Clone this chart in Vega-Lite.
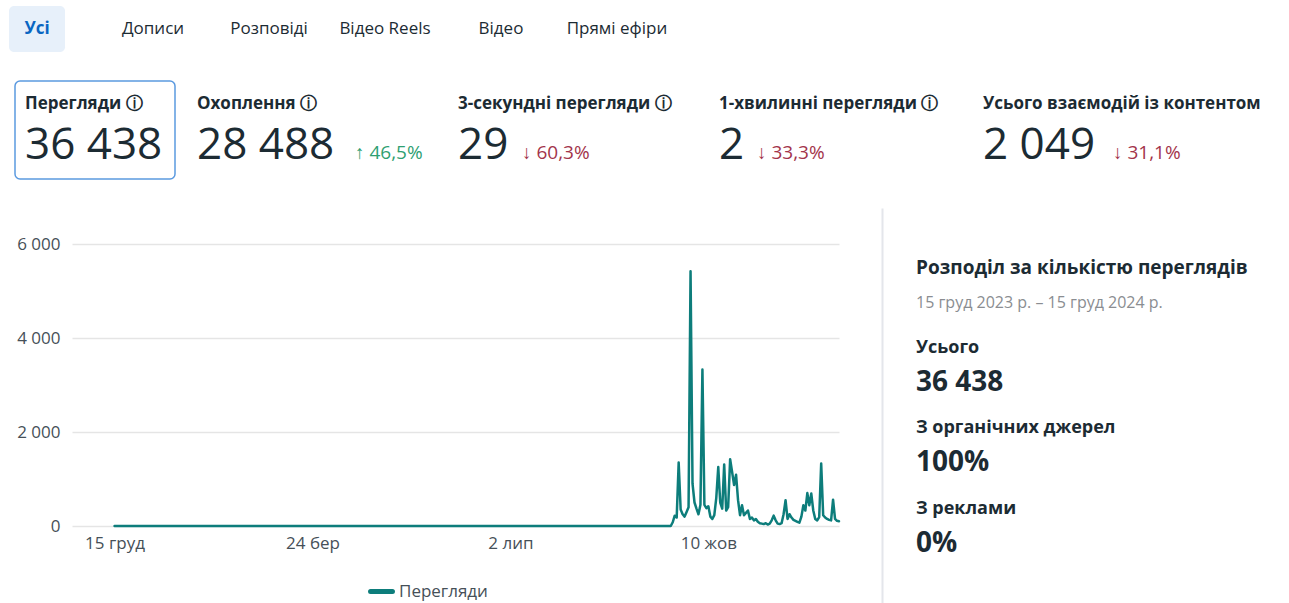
{
  "$schema": "https://vega.github.io/schema/vega-lite/v6.json",
  "background": "white",
  "padding": {"left": 9, "top": 6, "right": 5, "bottom": 0},
  "spacing": 28,
  "resolve": {"scale": {"color": "independent"}, "legend": {"color": "independent"}},
  "config": {"font": "Open Sans", "view": {"stroke": null}, "legend": {"layout": {"bottom": {"anchor": "middle"}}}},
  "vconcat": [
    {
      "width": 624,
      "height": 46,
      "data": {"values": [
        {"tab": "Усі", "state": "selected"},
        {"tab": "Дописи", "state": "other"},
        {"tab": "Розповіді", "state": "other"},
        {"tab": "Відео Reels", "state": "other"},
        {"tab": "Відео", "state": "other"},
        {"tab": "Прямі ефіри", "state": "other"}
      ]},
      "encoding": {
        "x": {"field": "tab", "type": "nominal", "sort": null,
          "scale": {"type": "point", "domain": ["Усі", "Дописи", "Розповіді", "Відео Reels", "Відео", "Прямі ефіри"], "padding": 0.19},
          "axis": null}
      },
      "layer": [
        {"transform": [{"filter": "datum.state === 'selected'"}],
         "mark": {"type": "rect", "width": 56, "fill": "#e7f0fa", "cornerRadius": 5}},
        {"transform": [{"filter": "datum.state === 'selected'"}],
         "mark": {"type": "text", "fontSize": 17, "fontWeight": "bold", "color": "#0a66c2", "baseline": "middle"},
         "encoding": {"text": {"field": "tab", "type": "nominal"}}},
        {"transform": [{"filter": "datum.state === 'other'"}],
         "mark": {"type": "text", "fontSize": 17, "color": "#1c2b33", "baseline": "middle"},
         "encoding": {"text": {"field": "tab", "type": "nominal"}}}
      ]
    },
    {
      "spacing": 22,
      "bounds": "flush",
      "hconcat": [
        {
          "width": 160, "height": 98,
          "view": {"stroke": "#5b9ae0", "strokeWidth": 1.5, "cornerRadius": 5},
          "data": {"values": [
            {"part": "label", "text": "Перегляди ⓘ"},
            {"part": "value", "text": "36 438"}
          ]},
          "encoding": {"text": {"field": "text", "type": "nominal"}},
          "layer": [
            {"transform": [{"filter": "datum.part === 'label'"}],
             "mark": {"type": "text", "align": "left", "baseline": "alphabetic", "dx": 10, "fontSize": 17, "fontWeight": "bold", "color": "#1c2b33"},
             "encoding": {
               "x": {"datum": "value", "type": "nominal", "scale": {"type": "point", "domain": ["value", "change"], "padding": 0, "align": 0}, "axis": null},
               "y": {"field": "part", "type": "nominal", "scale": {"type": "point", "domain": ["label", "value"], "padding": 0.48, "align": 0.583}, "axis": null}}},
            {"transform": [{"filter": "datum.part === 'value'"}],
             "mark": {"type": "text", "align": "left", "baseline": "alphabetic", "dx": 10, "fontSize": 44, "color": "#1c2b33"},
             "encoding": {
               "x": {"field": "part", "type": "nominal", "scale": {"type": "point", "domain": ["value", "change"], "padding": 0, "align": 0}, "axis": null},
               "y": {"field": "part", "type": "nominal", "scale": {"type": "point", "domain": ["label", "value"], "padding": 0.48, "align": 0.583}, "axis": null}}}
          ]
        },
        {
          "width": 239, "height": 98,
          "data": {"values": [
            {"part": "label", "text": "Охоплення ⓘ"},
            {"part": "value", "text": "28 488"},
            {"part": "change", "text": "↑ 46,5%"}
          ]},
          "encoding": {"text": {"field": "text", "type": "nominal"}},
          "layer": [
            {"transform": [{"filter": "datum.part === 'label'"}],
             "mark": {"type": "text", "align": "left", "baseline": "alphabetic", "fontSize": 17, "fontWeight": "bold", "color": "#1c2b33"},
             "encoding": {
               "x": {"datum": "value", "type": "nominal", "scale": {"type": "point", "domain": ["value", "change"], "padding": 0.2563, "align": 0}, "axis": null},
               "y": {"field": "part", "type": "nominal", "scale": {"type": "point", "domain": ["label", "value"], "padding": 0.48, "align": 0.583}, "axis": null}}},
            {"transform": [{"filter": "datum.part === 'value'"}],
             "mark": {"type": "text", "align": "left", "baseline": "alphabetic", "fontSize": 44, "color": "#1c2b33"},
             "encoding": {
               "x": {"field": "part", "type": "nominal", "scale": {"type": "point", "domain": ["value", "change"], "padding": 0.2563, "align": 0}, "axis": null},
               "y": {"field": "part", "type": "nominal", "scale": {"type": "point", "domain": ["label", "value"], "padding": 0.48, "align": 0.583}, "axis": null}}},
            {"transform": [{"filter": "datum.part === 'change'"}],
             "mark": {"type": "text", "align": "left", "baseline": "alphabetic", "fontSize": 19, "color": "#2f9f72"},
             "encoding": {
               "x": {"field": "part", "type": "nominal", "scale": {"type": "point", "domain": ["value", "change"], "padding": 0.2563, "align": 0}, "axis": null},
               "y": {"datum": "value", "type": "nominal", "scale": {"type": "point", "domain": ["label", "value"], "padding": 0.48, "align": 0.583}, "axis": null}}}
          ]
        },
        {
          "width": 239, "height": 98,
          "data": {"values": [
            {"part": "label", "text": "3-секундні перегляди ⓘ"},
            {"part": "value", "text": "29"},
            {"part": "change", "text": "↓ 60,3%"}
          ]},
          "encoding": {"text": {"field": "text", "type": "nominal"}},
          "layer": [
            {"transform": [{"filter": "datum.part === 'label'"}],
             "mark": {"type": "text", "align": "left", "baseline": "alphabetic", "fontSize": 17, "fontWeight": "bold", "color": "#1c2b33"},
             "encoding": {
               "x": {"datum": "value", "type": "nominal", "scale": {"type": "point", "domain": ["value", "change", "end"], "padding": 0.867, "align": 0}, "axis": null},
               "y": {"field": "part", "type": "nominal", "scale": {"type": "point", "domain": ["label", "value"], "padding": 0.48, "align": 0.583}, "axis": null}}},
            {"transform": [{"filter": "datum.part === 'value'"}],
             "mark": {"type": "text", "align": "left", "baseline": "alphabetic", "fontSize": 44, "color": "#1c2b33"},
             "encoding": {
               "x": {"field": "part", "type": "nominal", "scale": {"type": "point", "domain": ["value", "change", "end"], "padding": 0.867, "align": 0}, "axis": null},
               "y": {"field": "part", "type": "nominal", "scale": {"type": "point", "domain": ["label", "value"], "padding": 0.48, "align": 0.583}, "axis": null}}},
            {"transform": [{"filter": "datum.part === 'change'"}],
             "mark": {"type": "text", "align": "left", "baseline": "alphabetic", "fontSize": 19, "color": "#a3344b"},
             "encoding": {
               "x": {"field": "part", "type": "nominal", "scale": {"type": "point", "domain": ["value", "change", "end"], "padding": 0.867, "align": 0}, "axis": null},
               "y": {"datum": "value", "type": "nominal", "scale": {"type": "point", "domain": ["label", "value"], "padding": 0.48, "align": 0.583}, "axis": null}}}
          ]
        },
        {
          "width": 242, "height": 98,
          "data": {"values": [
            {"part": "label", "text": "1-хвилинні перегляди ⓘ"},
            {"part": "value", "text": "2"},
            {"part": "change", "text": "↓ 33,3%"}
          ]},
          "encoding": {"text": {"field": "text", "type": "nominal"}},
          "layer": [
            {"transform": [{"filter": "datum.part === 'label'"}],
             "mark": {"type": "text", "align": "left", "baseline": "alphabetic", "fontSize": 17, "fontWeight": "bold", "color": "#1c2b33"},
             "encoding": {
               "x": {"datum": "value", "type": "nominal", "scale": {"type": "point", "domain": ["value", "change", "s3", "s4", "s5", "s6"], "padding": 0.684, "align": 0}, "axis": null},
               "y": {"field": "part", "type": "nominal", "scale": {"type": "point", "domain": ["label", "value"], "padding": 0.48, "align": 0.583}, "axis": null}}},
            {"transform": [{"filter": "datum.part === 'value'"}],
             "mark": {"type": "text", "align": "left", "baseline": "alphabetic", "fontSize": 44, "color": "#1c2b33"},
             "encoding": {
               "x": {"field": "part", "type": "nominal", "scale": {"type": "point", "domain": ["value", "change", "s3", "s4", "s5", "s6"], "padding": 0.684, "align": 0}, "axis": null},
               "y": {"field": "part", "type": "nominal", "scale": {"type": "point", "domain": ["label", "value"], "padding": 0.48, "align": 0.583}, "axis": null}}},
            {"transform": [{"filter": "datum.part === 'change'"}],
             "mark": {"type": "text", "align": "left", "baseline": "alphabetic", "fontSize": 19, "color": "#a3344b"},
             "encoding": {
               "x": {"field": "part", "type": "nominal", "scale": {"type": "point", "domain": ["value", "change", "s3", "s4", "s5", "s6"], "padding": 0.684, "align": 0}, "axis": null},
               "y": {"datum": "value", "type": "nominal", "scale": {"type": "point", "domain": ["label", "value"], "padding": 0.48, "align": 0.583}, "axis": null}}}
          ]
        },
        {
          "width": 290, "height": 98,
          "data": {"values": [
            {"part": "label", "text": "Усього взаємодій із контентом"},
            {"part": "value", "text": "2 049"},
            {"part": "change", "text": "↓ 31,1%"}
          ]},
          "encoding": {"text": {"field": "text", "type": "nominal"}},
          "layer": [
            {"transform": [{"filter": "datum.part === 'label'"}],
             "mark": {"type": "text", "align": "left", "baseline": "alphabetic", "fontSize": 17, "fontWeight": "bold", "color": "#1c2b33"},
             "encoding": {
               "x": {"datum": "value", "type": "nominal", "scale": {"type": "point", "domain": ["value", "change"], "padding": 0.615, "align": 0}, "axis": null},
               "y": {"field": "part", "type": "nominal", "scale": {"type": "point", "domain": ["label", "value"], "padding": 0.48, "align": 0.583}, "axis": null}}},
            {"transform": [{"filter": "datum.part === 'value'"}],
             "mark": {"type": "text", "align": "left", "baseline": "alphabetic", "fontSize": 44, "color": "#1c2b33"},
             "encoding": {
               "x": {"field": "part", "type": "nominal", "scale": {"type": "point", "domain": ["value", "change"], "padding": 0.615, "align": 0}, "axis": null},
               "y": {"field": "part", "type": "nominal", "scale": {"type": "point", "domain": ["label", "value"], "padding": 0.48, "align": 0.583}, "axis": null}}},
            {"transform": [{"filter": "datum.part === 'change'"}],
             "mark": {"type": "text", "align": "left", "baseline": "alphabetic", "fontSize": 19, "color": "#a3344b"},
             "encoding": {
               "x": {"field": "part", "type": "nominal", "scale": {"type": "point", "domain": ["value", "change"], "padding": 0.615, "align": 0}, "axis": null},
               "y": {"datum": "value", "type": "nominal", "scale": {"type": "point", "domain": ["label", "value"], "padding": 0.48, "align": 0.583}, "axis": null}}}
          ]
        }
      ]
    },
    {
      "spacing": 41,
      "resolve": {"scale": {"color": "independent"}, "legend": {"color": "independent"}},
      "hconcat": [
        {
          "spacing": 0,
          "hconcat": [
            {
              "width": 1,
              "height": 1,
              "data": {"values": []},
              "mark": {"type": "point", "opacity": 0}
            },
            {
              "width": 767,
              "height": 318,
              "data": {"values": [
                {"date": "2023-12-15", "views": 0},
                {"date": "2024-01-15", "views": 0},
                {"date": "2024-02-15", "views": 0},
                {"date": "2024-03-15", "views": 0},
                {"date": "2024-04-15", "views": 0},
                {"date": "2024-05-15", "views": 0},
                {"date": "2024-06-15", "views": 0},
                {"date": "2024-07-15", "views": 0},
                {"date": "2024-08-15", "views": 0},
                {"date": "2024-09-15", "views": 0},
                {"date": "2024-09-21", "views": 0},
                {"date": "2024-09-22", "views": 80},
                {"date": "2024-09-23", "views": 220},
                {"date": "2024-09-24", "views": 180},
                {"date": "2024-09-25", "views": 1350},
                {"date": "2024-09-26", "views": 350},
                {"date": "2024-09-27", "views": 250},
                {"date": "2024-09-28", "views": 200},
                {"date": "2024-09-29", "views": 300},
                {"date": "2024-09-30", "views": 400},
                {"date": "2024-10-01", "views": 5420},
                {"date": "2024-10-02", "views": 900},
                {"date": "2024-10-03", "views": 500},
                {"date": "2024-10-04", "views": 370},
                {"date": "2024-10-05", "views": 250},
                {"date": "2024-10-06", "views": 450},
                {"date": "2024-10-07", "views": 3330},
                {"date": "2024-10-08", "views": 450},
                {"date": "2024-10-09", "views": 380},
                {"date": "2024-10-10", "views": 420},
                {"date": "2024-10-11", "views": 200},
                {"date": "2024-10-12", "views": 150},
                {"date": "2024-10-13", "views": 230},
                {"date": "2024-10-14", "views": 600},
                {"date": "2024-10-15", "views": 1255},
                {"date": "2024-10-16", "views": 500},
                {"date": "2024-10-17", "views": 370},
                {"date": "2024-10-18", "views": 1310},
                {"date": "2024-10-19", "views": 330},
                {"date": "2024-10-20", "views": 400},
                {"date": "2024-10-21", "views": 1420},
                {"date": "2024-10-22", "views": 1150},
                {"date": "2024-10-23", "views": 870},
                {"date": "2024-10-24", "views": 1090},
                {"date": "2024-10-25", "views": 550},
                {"date": "2024-10-26", "views": 230},
                {"date": "2024-10-27", "views": 440},
                {"date": "2024-10-28", "views": 230},
                {"date": "2024-10-29", "views": 280},
                {"date": "2024-10-30", "views": 330},
                {"date": "2024-10-31", "views": 150},
                {"date": "2024-11-01", "views": 180},
                {"date": "2024-11-02", "views": 120},
                {"date": "2024-11-03", "views": 150},
                {"date": "2024-11-04", "views": 90},
                {"date": "2024-11-05", "views": 60},
                {"date": "2024-11-06", "views": 50},
                {"date": "2024-11-07", "views": 40},
                {"date": "2024-11-08", "views": 60},
                {"date": "2024-11-09", "views": 30},
                {"date": "2024-11-10", "views": 50},
                {"date": "2024-11-11", "views": 120},
                {"date": "2024-11-12", "views": 220},
                {"date": "2024-11-13", "views": 120},
                {"date": "2024-11-14", "views": 50},
                {"date": "2024-11-15", "views": 40},
                {"date": "2024-11-16", "views": 60},
                {"date": "2024-11-17", "views": 250},
                {"date": "2024-11-18", "views": 550},
                {"date": "2024-11-19", "views": 150},
                {"date": "2024-11-20", "views": 250},
                {"date": "2024-11-21", "views": 180},
                {"date": "2024-11-22", "views": 130},
                {"date": "2024-11-23", "views": 110},
                {"date": "2024-11-24", "views": 90},
                {"date": "2024-11-25", "views": 70},
                {"date": "2024-11-26", "views": 200},
                {"date": "2024-11-27", "views": 440},
                {"date": "2024-11-28", "views": 330},
                {"date": "2024-11-29", "views": 700},
                {"date": "2024-11-30", "views": 440},
                {"date": "2024-12-01", "views": 690},
                {"date": "2024-12-02", "views": 330},
                {"date": "2024-12-03", "views": 150},
                {"date": "2024-12-04", "views": 120},
                {"date": "2024-12-05", "views": 190},
                {"date": "2024-12-06", "views": 1330},
                {"date": "2024-12-07", "views": 230},
                {"date": "2024-12-08", "views": 180},
                {"date": "2024-12-09", "views": 150},
                {"date": "2024-12-10", "views": 130},
                {"date": "2024-12-11", "views": 120},
                {"date": "2024-12-12", "views": 560},
                {"date": "2024-12-13", "views": 150},
                {"date": "2024-12-14", "views": 110},
                {"date": "2024-12-15", "views": 100}
              ]},
              "mark": {"type": "line", "strokeWidth": 2.5, "strokeJoin": "round", "strokeCap": "round"},
              "encoding": {
                "x": {"field": "date", "type": "temporal",
                  "scale": {"type": "utc", "domain": [{"year": 2023, "month": 11, "date": 23, "hours": 12, "utc": true}, {"year": 2024, "month": 12, "date": 15, "utc": true}]},
                  "axis": {
                    "values": [
                      {"year": 2023, "month": 12, "date": 15, "utc": true},
                      {"year": 2024, "month": 3, "date": 24, "utc": true},
                      {"year": 2024, "month": 7, "date": 2, "utc": true},
                      {"year": 2024, "month": 10, "date": 10, "utc": true}
                    ],
                    "labelExpr": "utcdate(datum.value) + ' ' + ['січ','лют','бер','кві','тра','чер','лип','сер','вер','жов','лис','груд'][utcmonth(datum.value)]",
                    "grid": false, "domain": false, "ticks": false,
                    "labelFontSize": 17, "labelColor": "#465058", "labelPadding": 9, "labelFlush": false,
                    "title": null}},
                "y": {"field": "views", "type": "quantitative",
                  "scale": {"domain": [0, 6766], "nice": false, "zero": true},
                  "axis": {
                    "values": [0, 2000, 4000, 6000],
                    "labelExpr": "replace(format(datum.value, ','), ',', ' ')",
                    "grid": true, "gridColor": "#e5e5e5", "gridWidth": 1.5,
                    "domain": false, "ticks": false,
                    "labelFontSize": 17, "labelColor": "#465058", "labelPadding": 12,
                    "title": null}},
                "color": {"datum": "Перегляди", "type": "nominal",
                  "scale": {"range": ["#0d7d7b"]},
                  "legend": {"orient": "bottom", "title": null, "symbolType": "stroke", "symbolStrokeWidth": 5, "symbolSize": 480,
                    "labelFontSize": 17, "labelColor": "#465058", "offset": 27,
                    "encode": {"symbols": {"update": {"strokeCap": {"value": "round"}}}}}}
              }
            }
          ]
        },
        {
          "width": 68,
          "height": 397,
          "data": {"values": [
            {"group": "head", "line": "label", "text": "Розподіл за кількістю переглядів"},
            {"group": "head", "line": "value", "text": "15 груд 2023 р. – 15 груд 2024 р."},
            {"group": "total", "line": "label", "text": "Усього"},
            {"group": "total", "line": "value", "text": "36 438"},
            {"group": "organic", "line": "label", "text": "З органічних джерел"},
            {"group": "organic", "line": "value", "text": "100%"},
            {"group": "ads", "line": "label", "text": "З реклами"},
            {"group": "ads", "line": "value", "text": "0%"}
          ]},
          "encoding": {
            "y": {"field": "group", "type": "nominal", "sort": null,
              "scale": {"type": "band", "domain": ["head", "total", "organic", "ads"], "paddingInner": 0, "paddingOuter": 0.47, "align": 0.49},
              "axis": {"labels": false, "ticks": false, "title": null, "domain": true, "domainColor": "#e4e6eb", "domainWidth": 2, "grid": false}},
            "yOffset": {"field": "line", "type": "nominal", "sort": null,
              "scale": {"type": "point", "domain": ["label", "value"], "padding": 0.649}},
            "text": {"field": "text", "type": "nominal"}
          },
          "layer": [
            {"transform": [{"filter": "datum.group === 'head' && datum.line === 'label'"}],
             "mark": {"type": "text", "align": "left", "baseline": "middle", "fontSize": 19, "fontWeight": "bold", "color": "#1c2b33"}},
            {"transform": [{"filter": "datum.group === 'head' && datum.line === 'value'"}],
             "mark": {"type": "text", "align": "left", "baseline": "middle", "fontSize": 16, "color": "#8a8d91"}},
            {"transform": [{"filter": "datum.group !== 'head' && datum.line === 'label'"}],
             "mark": {"type": "text", "align": "left", "baseline": "middle", "fontSize": 18, "fontWeight": "bold", "color": "#1c2b33"}},
            {"transform": [{"filter": "datum.group !== 'head' && datum.line === 'value'"}],
             "mark": {"type": "text", "align": "left", "baseline": "middle", "fontSize": 28, "fontWeight": "bold", "color": "#1c2b33"}}
          ]
        }
      ]
    }
  ]
}
